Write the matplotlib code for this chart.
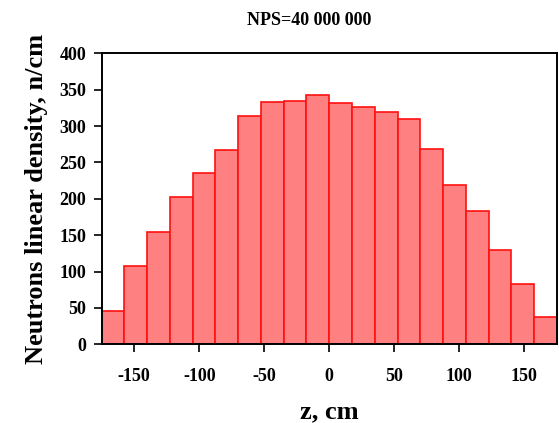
import matplotlib
matplotlib.use("Agg")
import matplotlib.pyplot as plt
import numpy as np

plt.rcParams['font.family'] = ['Liberation Serif', 'DejaVu Serif']

bin_edges = [-175 + 17.5 * i for i in range(21)]
density = [46, 108, 155, 203, 236, 267, 314, 333, 335, 343,
           331, 326, 320, 310, 268, 219, 183, 129, 83, 38]
xticks = [-150, -100, -50, 0, 50, 100, 150]
yticks = [0, 50, 100, 150, 200, 250, 300, 350, 400]

fig = plt.figure(figsize=(5.59, 4.23), dpi=100)
ax = fig.add_axes([0.182, 0.186, 0.814, 0.688])

lefts = np.array(bin_edges[:-1])
widths = np.diff(bin_edges)
ax.bar(lefts, density, width=widths, align='edge', color='#FF8080',
       edgecolor='#FF1010', linewidth=1.2)

ax.set_xlim(-175, 175)
ax.set_ylim(0, 400)
ax.set_xticks(xticks)
ax.set_yticks(yticks)
ax.set_xticklabels([str(t) for t in xticks], fontsize=13, fontweight='bold')
ax.set_yticklabels([str(t) for t in yticks], fontsize=13, fontweight='bold')
ax.tick_params(direction='out', length=6, width=1.2, top=False, right=False)
ax.tick_params(axis='x', pad=11)
ax.tick_params(axis='y', pad=5)
for s in ax.spines.values():
    s.set_linewidth(1.4)
    s.set_color('black')

ax.set_xlabel('z, cm', fontsize=19, fontweight='bold', labelpad=11)
ax.set_ylabel('Neutrons linear density, n/cm', fontsize=19, fontweight='bold', labelpad=8)
fig.text(0.553, 0.952, 'NPS=40 000 000', ha='center', va='center', fontsize=13, fontweight='bold')

fig.savefig('out.png', dpi=100)
